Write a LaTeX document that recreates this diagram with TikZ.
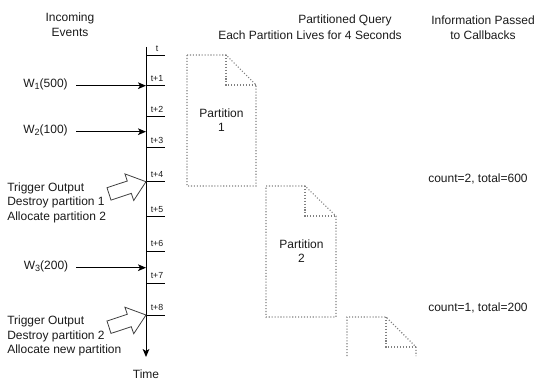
\documentclass[tikz,border=0pt]{standalone}
\usepackage{fontspec}
\setmainfont{Liberation Sans}
\usetikzlibrary{arrows.meta}
\definecolor{txtc}{HTML}{1A1A1A}
\definecolor{dotc}{HTML}{808080}
\definecolor{blkc}{HTML}{404040}
\newcommand{\mysub}[1]{\raisebox{-0.35ex}{\fontsize{6.8}{7}\selectfont #1}}
\begin{document}
\begin{tikzpicture}[x=0.75pt,y=-0.75pt,
  txt/.style={font=\fontsize{9}{10.9}\selectfont, inner sep=0pt, text=txtc},
  ticklbl/.style={font=\fontsize{6.6}{8}\selectfont, inner sep=0pt, text=txtc},
  axisline/.style={draw=black, line width=0.75pt, -{Stealth[length=6pt,width=5pt,inset=1.5pt]}},
  tickline/.style={draw=black, line width=0.75pt},
  evarrow/.style={draw=black, line width=0.75pt, -{Stealth[length=6pt,width=5pt,inset=1.5pt]}},
  dotbox/.style={draw=dotc, line width=0.8pt, dash pattern=on 0.8pt off 1.4pt},
  blockarrow/.style={draw=blkc, fill=white, line width=0.6pt, line join=miter}
]
\useasboundingbox (0,0) rectangle (538,381);

% headers
\node[txt, align=center] (hin) at (70,24.5) {Incoming\\Events};
\node[txt] (hq1) at (345,20) {Partitioned Query};
\node[txt] (hq2) at (310,35) {Each Partition Lives for 4 Seconds};
\node[txt, align=center] (hinfo) at (483,27.5) {Information Passed\\to Callbacks};

% time axis
\coordinate (axtop) at (146,47);
\coordinate (axbot) at (146,357);
\draw[axisline] (axtop) -- (axbot);
\node[txt] (time) at (146,374) {Time};

% ticks
\foreach \nm/\yy/\lb in {t0/55.7/t, t1/85.7/t+1, t2/116.7/t+2, t3/147.7/t+3, t4/181.7/t+4,
                         t5/216.7/t+5, t6/251/t+6, t7/283.3/t+7, t8/315/t+8}{
  \coordinate (\nm) at (146,\yy);
  \coordinate (\nm e) at (165,\yy);
  \draw[tickline] (\nm) -- (\nm e);
  \node[ticklbl] (\nm l) at (157,\yy-7.5) {\lb};
}

% incoming events
\node[txt] (w1) at (45.5,84) {W\mysub{1}(500)};
\coordinate (w1s) at (76,85.7);
\coordinate (w1t) at (146,85.7);
\draw[evarrow] (w1s) -- (w1t);

\node[txt] (w2) at (45.5,130) {W\mysub{2}(100)};
\coordinate (w2s) at (76,131.7);
\coordinate (w2t) at (146,131.7);
\draw[evarrow] (w2s) -- (w2t);

\node[txt] (w3) at (46,266) {W\mysub{3}(200)};
\coordinate (w3s) at (76,267.7);
\coordinate (w3t) at (146,267.7);
\draw[evarrow] (w3s) -- (w3t);

% block arrows
\foreach \tp in {t4,t8}{
  \draw[blockarrow, shift={(\tp)}] (0,0) -- (-12.3,18.8) -- (-14.7,11.7) -- (-35,18.4)
      -- (-39,6) -- (-18.7,-0.7) -- (-21.1,-7.8) -- cycle;
}

% trigger texts
\node[txt, align=left, anchor=west] (trig1) at (7,202.8)
  {Trigger Output\\Destroy partition 1\\Allocate partition 2};
\node[txt, align=left, anchor=west] (trig2) at (7,336.2)
  {Trigger Output\\Destroy partition 2\\Allocate new partition};

% partitions
\draw[dotbox] (187,55) -- (226,55) -- (256,85) -- (256,186) -- (187,186) -- cycle;
\draw[dotbox] (226,55) -- (226,85) -- (256,85);
\node[txt, align=center] (p1) at (221.5,120) {Partition\\1};

\draw[dotbox] (266,186) -- (305,186) -- (336,216) -- (336,317) -- (266,317) -- cycle;
\draw[dotbox] (305,186) -- (305,216) -- (336,216);
\node[txt, align=center] (p2) at (301.5,251) {Partition\\2};

\draw[dotbox] (347,356) -- (347,317) -- (386,317) -- (416,347) -- (416,356);
\draw[dotbox] (386,317) -- (386,347) -- (416,347);

% callback info
\node[txt, anchor=west] (c1) at (428,179) {count=2, total=600};
\node[txt, anchor=west] (c2) at (428,308) {count=1, total=200};
\end{tikzpicture}
\end{document}
